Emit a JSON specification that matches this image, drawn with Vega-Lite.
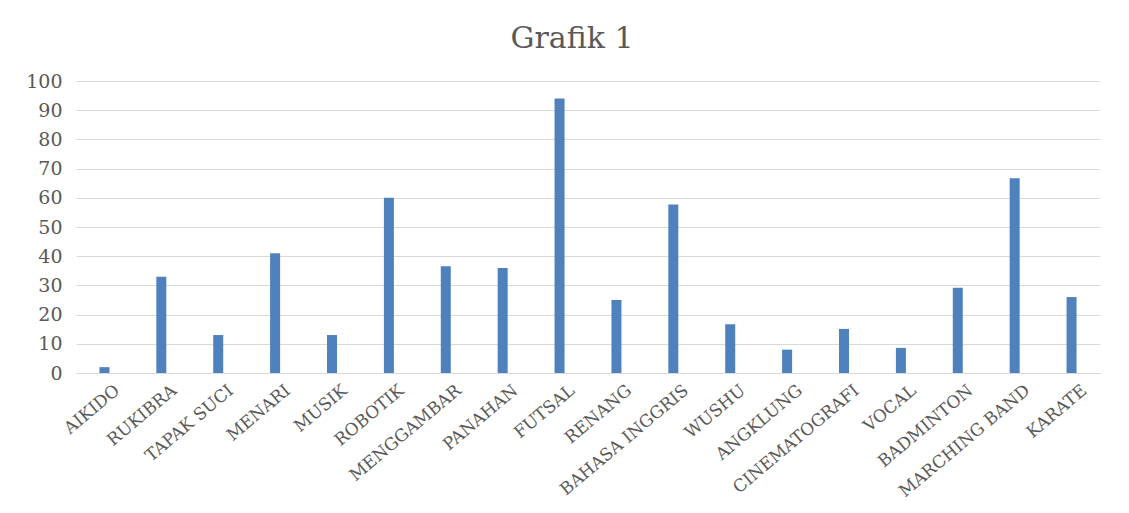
{
  "$schema": "https://vega.github.io/schema/vega-lite/v6.json",
  "autosize": "none",
  "width": 1024,
  "height": 292,
  "padding": {"left": 76, "top": 81, "right": 29, "bottom": 140},
  "background": "white",
  "title": {
    "text": "Grafik 1",
    "font": "DejaVu Serif",
    "fontSize": 30,
    "fontWeight": "normal",
    "color": "#595959",
    "anchor": "middle",
    "frame": "group",
    "dx": -16,
    "dy": 28,
    "baseline": "alphabetic",
    "offset": 22
  },
  "data": {
    "values": [
      {"kegiatan": "AIKIDO", "nilai": 2},
      {"kegiatan": "RUKIBRA", "nilai": 33},
      {"kegiatan": "TAPAK SUCI", "nilai": 13},
      {"kegiatan": "MENARI", "nilai": 41},
      {"kegiatan": "MUSIK", "nilai": 13},
      {"kegiatan": "ROBOTIK", "nilai": 60},
      {"kegiatan": "MENGGAMBAR", "nilai": 36.6},
      {"kegiatan": "PANAHAN", "nilai": 36},
      {"kegiatan": "FUTSAL", "nilai": 94},
      {"kegiatan": "RENANG", "nilai": 25},
      {"kegiatan": "BAHASA INGGRIS", "nilai": 57.7},
      {"kegiatan": "WUSHU", "nilai": 16.7},
      {"kegiatan": "ANGKLUNG", "nilai": 8},
      {"kegiatan": "CINEMATOGRAFI", "nilai": 15.1},
      {"kegiatan": "VOCAL", "nilai": 8.6},
      {"kegiatan": "BADMINTON", "nilai": 29.2},
      {"kegiatan": "MARCHING BAND", "nilai": 66.7},
      {"kegiatan": "KARATE", "nilai": 26}
    ]
  },
  "mark": {"type": "bar", "width": 10, "color": "#4F81BD"},
  "encoding": {
    "x": {
      "field": "kegiatan",
      "type": "nominal",
      "sort": null,
      "scale": {"paddingInner": 0, "paddingOuter": 0},
      "axis": {
        "title": null,
        "labelAngle": -40,
        "labelAlign": "right",
        "labelBaseline": "middle",
        "labelOffset": 13,
        "labelPadding": 15,
        "labelFont": "DejaVu Serif",
        "labelFontSize": 17,
        "labelColor": "#595959",
        "ticks": false,
        "domainColor": "#D9D9D9",
        "domainWidth": 1,
        "grid": false,
        "labelOverlap": false,
        "labelLimit": 300
      }
    },
    "y": {
      "field": "nilai",
      "type": "quantitative",
      "scale": {"domain": [0, 100], "nice": false},
      "axis": {
        "title": null,
        "values": [0, 10, 20, 30, 40, 50, 60, 70, 80, 90, 100],
        "labelFont": "DejaVu Serif",
        "labelFontSize": 19,
        "labelColor": "#595959",
        "labelPadding": 14,
        "ticks": false,
        "domain": false,
        "grid": true,
        "gridColor": "#D9D9D9",
        "gridWidth": 1
      }
    }
  },
  "config": {
    "view": {"stroke": null}
  }
}
